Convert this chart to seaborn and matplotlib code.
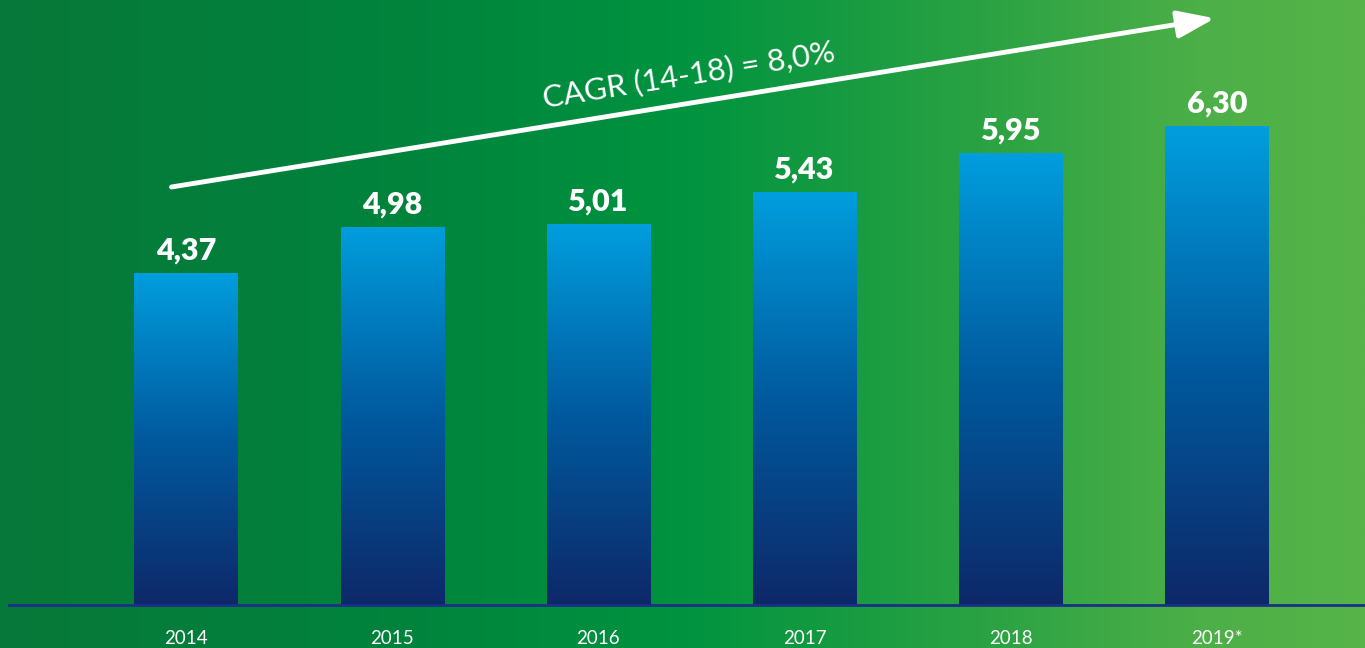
import numpy as np
import pandas as pd
import matplotlib
matplotlib.use('Agg')
import matplotlib.pyplot as plt
from matplotlib.colors import LinearSegmentedColormap
import seaborn as sns

# data
years = ['2014', '2015', '2016', '2017', '2018', '2019*']
values = [4.37, 4.98, 5.01, 5.43, 5.95, 6.30]
labels = ['4,37', '4,98', '5,01', '5,43', '5,95', '6,30']
cagr_text = 'CAGR (14-18) = 8,0%'

df = pd.DataFrame({'year': years, 'value': values})

sns.set_theme(style='white')
plt.rcParams['font.family'] = ['Lato', 'DejaVu Sans']

fig = plt.figure(figsize=(13.65, 6.48), dpi=100)

# background gradient
bg = fig.add_axes([0, 0, 1, 1], zorder=0)
bg_cmap = LinearSegmentedColormap.from_list('bg', [
    (0.0, '#077839'), (0.3, '#01843d'), (0.5, '#00933f'),
    (0.72, '#2aa243'), (0.88, '#4caf47'), (1.0, '#56b449')])
bg.imshow(np.linspace(0, 1, 512).reshape(1, -1), aspect='auto', cmap=bg_cmap,
          extent=[0, 1, 0, 1])
bg.set_axis_off()

ax = fig.add_axes([9 / 1365, 43 / 648, 1 - 9 / 1365, 1 - 43 / 648], zorder=1)
ax.patch.set_alpha(0)

sns.barplot(data=df, x='year', y='value', ax=ax, width=0.5, color='#0096d8')

ax.set_xlim(-0.858, 5.718)
ax.set_ylim(0, 605 / 76)

bar_cmap = LinearSegmentedColormap.from_list('bar', ['#0e2868', '#005a9e', '#009ede'])
grad = np.linspace(0, 1, 256).reshape(-1, 1)
for p, lab in zip(ax.patches, labels):
    x0, y0 = p.get_x(), p.get_y()
    w, h = p.get_width(), p.get_height()
    p.set_facecolor('none')
    p.set_edgecolor('none')
    im = ax.imshow(grad, aspect='auto', cmap=bar_cmap, origin='lower',
                   extent=[x0, x0 + w, y0, y0 + h], zorder=2)
    im.set_clip_path(p)
    ax.text(x0 + w / 2, y0 + h + 0.11, lab, ha='center', va='bottom',
            color='white', fontsize=22, fontweight='heavy')

for s in ['top', 'right', 'left']:
    ax.spines[s].set_visible(False)
ax.spines['bottom'].set_color('#1b2f86')
ax.spines['bottom'].set_linewidth(2)
ax.set_xlabel('')
ax.set_ylabel('')
ax.set_yticks([])
ax.tick_params(axis='x', length=0, pad=18, labelsize=13.5, labelcolor='white')

# CAGR arrow
ax.annotate('', xy=(4.99, 7.72), xytext=(-0.07, 5.50),
            arrowprops=dict(arrowstyle='-|>,head_length=1.9,head_width=0.7',
                            color='white', lw=3.5, shrinkA=0, shrinkB=0),
            zorder=3)
ax.text(2.44, 6.98, cagr_text, ha='center', va='center', rotation=9.1,
        rotation_mode='anchor', color='white', fontsize=22.5)

fig.savefig('out.png', dpi=100)
